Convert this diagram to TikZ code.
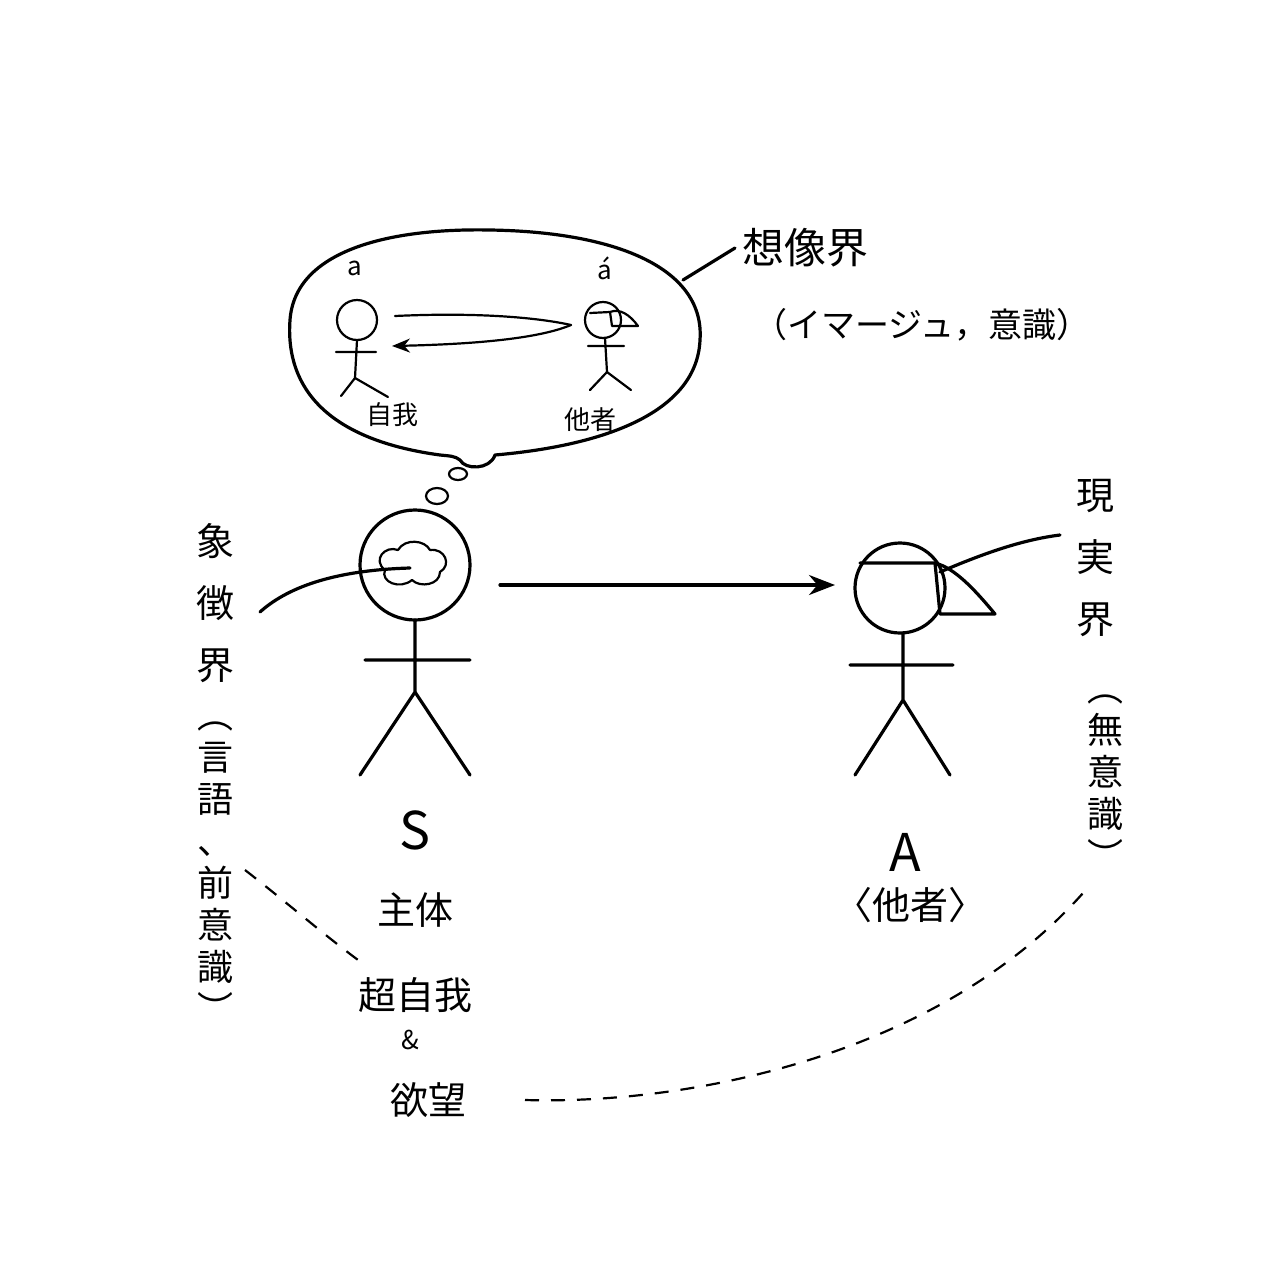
\documentclass[tikz,border=0pt]{standalone}
\usepackage{fontspec}
\setmainfont{Noto Sans CJK JP}
\usetikzlibrary{arrows.meta}
\begin{document}
\begin{tikzpicture}[x=0.5pt,y=-0.5pt,
  ink/.style={line width=1.6pt,line cap=round,line join=round},
  thin/.style={line width=1.1pt,line cap=round,line join=round},
  lbl/.style={font=\fontsize{19}{19}\selectfont},
  slbl/.style={font=\fontsize{13}{13}\selectfont},
  vt/.style={font=\fontsize{19}{31}\selectfont,align=center,inner sep=0pt},
  vp/.style={font=\fontsize{18}{21}\selectfont,align=center,inner sep=0pt},
  dsh/.style={line width=1.1pt,dash pattern=on 7pt off 6pt}]
\useasboundingbox (0,0) rectangle (1280,1280);
% thought bubble
\draw[ink] (440,455) .. controls (330,440) and (285,390) .. (290,320)
  .. controls (295,250) and (390,228) .. (490,230)
  .. controls (620,232) and (705,270) .. (700,340)
  .. controls (697,410) and (610,445) .. (495,455)
  .. controls (490,470) and (465,470) .. (460,460)
  .. controls (455,456) and (450,456) .. (440,455);
\draw[thin] (458,474) ellipse (9 and 6);
\draw[thin] (437,496) ellipse (11 and 8);
\coordinate (b1) at (683,280);
\node[font=\fontsize{21}{21}\selectfont,anchor=west] (t1) at (735,248) {想像界};
\node[font=\fontsize{17}{17}\selectfont] (t2) at (922,325) {（イマージュ，意識）};
\draw[ink] (b1) -- (t1.west);
% inner left figure
\node[slbl] (al) at (355,268) {\itshape a};
\draw[thin] (357,320) circle (20);
\draw[thin] (357,340) -- (355,378) (336,352) -- (376,352) (355,378) -- (341,396) (355,378) -- (388,397);
\node[slbl] (z1) at (392,415) {自我};
% inner right figure
\node[slbl] (ar) at (605,268) {\itshape á};
\draw[thin] (603,320) circle (18);
\draw[thin] (590,313) -- (610,312) -- (612,326) -- (638,326) .. controls (630,315) and (620,308) .. (610,312);
\draw[thin] (605,338) -- (607,372) (588,346) -- (624,346) (607,372) -- (590,390) (607,372) -- (631,390);
\node[slbl] (z2) at (590,420) {他者};
\coordinate (tip) at (571,325);
\draw[thin] (395,316) .. controls (480,312) and (540,318) .. (tip);
\draw[thin,-{Stealth[length=9pt,width=7pt]}] (tip) .. controls (540,338) and (480,344) .. (392,346);
% big S figure
\node[draw,circle,minimum size=55pt,inner sep=0pt,line width=1.6pt] (Sh) at (415,565) {};
\draw[thin] (385,570) .. controls (372,560) and (385,545) .. (398,550)
 .. controls (405,538) and (425,540) .. (430,550) .. controls (445,548) and (452,565) .. (440,572)
 .. controls (440,585) and (420,588) .. (412,580) .. controls (400,590) and (380,582) .. (385,570);
\coordinate (cl) at (410,568);
\draw[ink] (415,620) -- (415,692) (365,660) -- (470,660) (415,692) -- (360,775) (415,692) -- (470,775);
\node[font=\fontsize{26}{26}\selectfont] (S) at (415,830) {S};
\node[lbl] (sub) at (415,910) {主体};
\node[lbl] (ch) at (415,995) {超自我};
\node[font=\fontsize{13}{13}\selectfont\itshape] (amp) at (410,1040) {\&};
\node[lbl] (yo) at (428,1100) {欲望};
% A figure
\node[draw,circle,minimum size=45pt,inner sep=0pt,line width=1.6pt] (Ah) at (900,588) {};
\draw[ink,-{Stealth[length=13pt,width=10pt]}] (500,585) -- (835,585);
\draw[ink] (860,563) -- (935,563) -- (940,614) -- (995,614) .. controls (975,590) and (955,568) .. (935,563);
\draw[ink] (903,633) -- (903,700) (850,665) -- (953,665) (903,700) -- (855,775) (903,700) -- (950,775);
\node[font=\fontsize{26}{26}\selectfont] (A) at (905,852) {A};
\node[lbl] (ta) at (910,905) {〈他者〉};
% right vertical text
\node[vt] (gj) at (1095,558) {現\\実\\界};
\node[vp] (mi) at (1105,782) {︵\\無\\意\\識\\︶};
\draw[ink] (940,572) .. controls (980,555) and (1020,540) .. (1060,535);
% left vertical text
\node[vt] (sc) at (215,603) {象\\徴\\界};
\node[vp] (gg) at (215,872) {︵\\言\\語\\、\\前\\意\\識\\︶};
\draw[ink] (cl) .. controls (340,570) and (290,585) .. (260,612);
% dashed
\draw[dsh] (245,870) .. controls (290,905) and (330,940) .. (365,965);
\draw[dsh] (525,1100) .. controls (700,1105) and (950,1050) .. (1090,885);
\end{tikzpicture}
\end{document}
